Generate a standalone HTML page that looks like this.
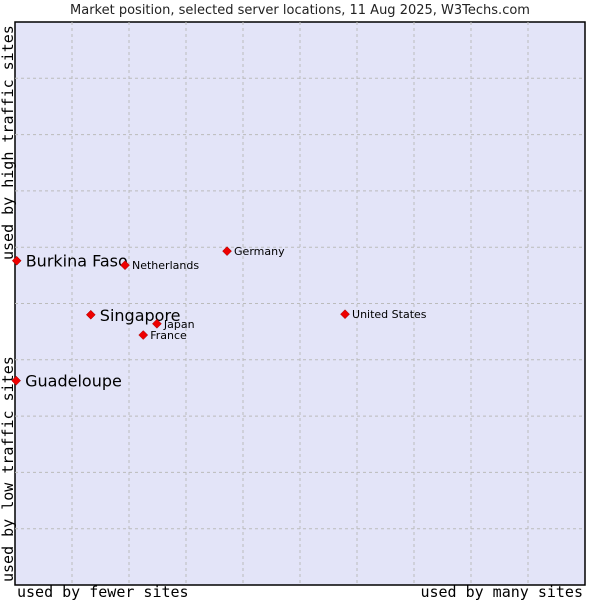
<!DOCTYPE html>
<html><head><meta charset="utf-8"><style>
body{margin:0;background:#fff;}
svg{display:block;font-family:"DejaVu Sans","Liberation Sans",sans-serif;}
</style></head><body>
<svg id="c" width="600" height="600">
<text x="300" y="14" text-anchor="middle" font-size="13" fill="#222">Market position, selected server locations, 11 Aug 2025, W3Techs.com</text>
<rect x="15" y="22" width="570" height="563" fill="#e3e4f8" stroke="#000" stroke-width="1.5"/>
<g id="grid"></g>
<g id="pts"></g>
<text x="17" y="597" font-family="DejaVu Sans Mono,Liberation Mono,monospace" font-size="15" fill="#000">used by fewer sites</text>
<text x="583" y="597" text-anchor="end" font-family="DejaVu Sans Mono,Liberation Mono,monospace" font-size="15" fill="#000">used by many sites</text>
<text transform="translate(13,582) rotate(-90)" font-family="DejaVu Sans Mono,Liberation Mono,monospace" font-size="15" fill="#000">used by low traffic sites</text>
<text transform="translate(13,260) rotate(-90)" font-family="DejaVu Sans Mono,Liberation Mono,monospace" font-size="15" fill="#000">used by high traffic sites</text>
</svg>
<script>
const names=["Burkina Faso","Netherlands","Germany","Singapore","Japan","France","United States","Guadeloupe"];
const xVals=[0.03,1.93,3.72,1.33,2.49,2.25,5.79,0.02];
const yVals=[5.76,5.68,5.93,4.80,4.64,4.44,4.81,3.63];
const big=[true,false,false,true,false,false,false,true];
const NS="http://www.w3.org/2000/svg";
const X0=15,X1=585,Y0=585,Y1=22;
function sx(v){return X0+v/10*(X1-X0);}
function sy(v){return Y0-v/10*(Y0-Y1);}
const grid=document.getElementById('grid');
for(let i=1;i<10;i++){
 const l=document.createElementNS(NS,'line');
 
 
 l.setAttribute('x1',sx(i));l.setAttribute('x2',sx(i));l.setAttribute('y1',Y1);l.setAttribute('y2',Y0);
 l.setAttribute('stroke','#bbb');l.setAttribute('stroke-dasharray','3,3');grid.appendChild(l);
 const h=document.createElementNS(NS,'line');
 
 
 h.setAttribute('x1',X0);h.setAttribute('x2',X1);h.setAttribute('y1',sy(i));h.setAttribute('y2',sy(i));
 h.setAttribute('stroke','#bbb');h.setAttribute('stroke-dasharray','3,3');grid.appendChild(h);
}
const pts=document.getElementById('pts');
names.forEach((n,i)=>{
 const x=sx(xVals[i]),y=sy(yVals[i]);
 const d=document.createElementNS(NS,'path');
 
 
 d.setAttribute('d',`M${x} ${y-4.5}L${x+4.5} ${y}L${x} ${y+4.5}L${x-4.5} ${y}Z`);
 d.setAttribute('fill','#e00');d.setAttribute('stroke','#900');d.setAttribute('stroke-width','0.5');
 pts.appendChild(d);
 const t=document.createElementNS(NS,'text');
 
 
 t.setAttribute('x',x+(big[i]?9:7));t.setAttribute('y',y+(big[i]?6:4));
 t.setAttribute('font-size',big[i]?'16':'11');t.setAttribute('fill','#000');
 t.textContent=n;pts.appendChild(t);
});
</script>
</body></html>
